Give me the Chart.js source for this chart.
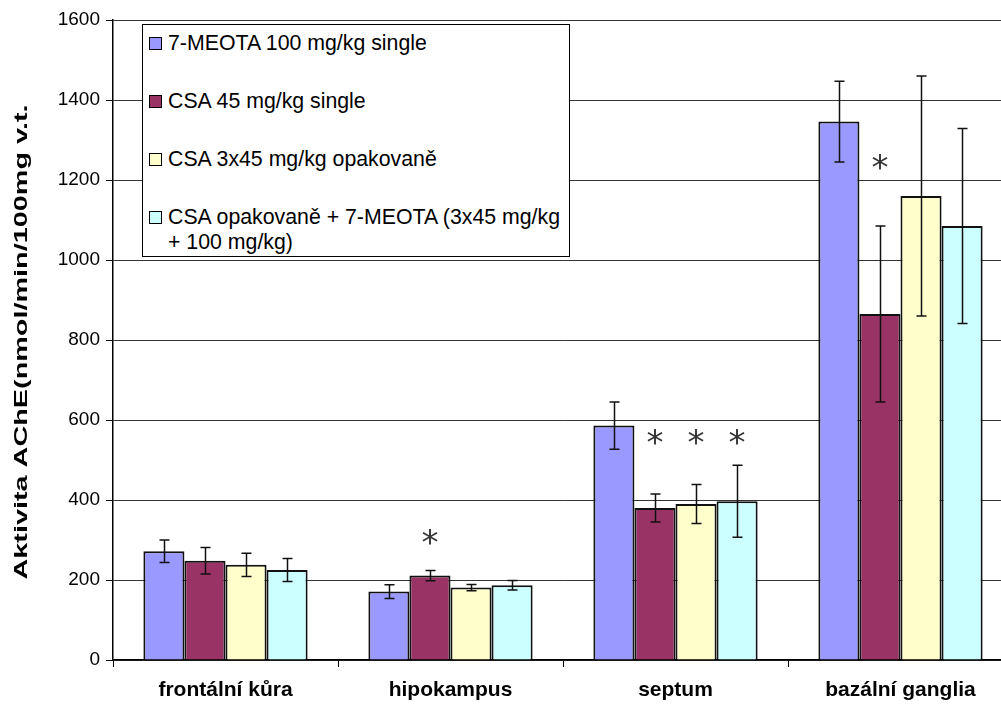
<!DOCTYPE html>
<html>
<head>
<meta charset="utf-8">
<script src="https://cdn.jsdelivr.net/npm/chart.js@4/dist/chart.umd.min.js"></script>
<style>
  html, body { margin: 0; padding: 0; background: #fff; overflow: hidden; width: 1001px; height: 705px; }
  #wrap { position: relative; width: 1015px; height: 705px; }
  #legend { position: absolute; left: 142px; top: 24px; width: 426px; height: 231px; border: 1.5px solid #000; background: #fff;
    font-family: "Liberation Sans", Arial, sans-serif; font-size: 21.3px; color: #000; box-sizing: content-box; }
  .item { position: absolute; left: 6px; display: flex; align-items: flex-start; line-height: 25px; }
  .sw { width: 11px; height: 11px; border: 1px solid #000; margin-top: 6px; margin-right: 6px; flex: none; }
  .txt { width: 400px; }
</style>
</head>
<body>
<div id="wrap">
  <canvas id="c" width="1015" height="705"></canvas>
  <div id="legend"></div>
</div>
<script>
// ---- data ----
const categories = ["frontální kůra", "hipokampus", "septum", "bazální ganglia"];
const seriesNames = [
  "7-MEOTA 100 mg/kg single",
  "CSA 45 mg/kg single",
  "CSA 3x45 mg/kg opakovaně",
  "CSA opakovaně + 7-MEOTA (3x45 mg/kg + 100 mg/kg)"
];
const meota100 = [272, 171, 586, 1346];
const csa45 = [248, 211, 380, 865];
const csa3x45 = [238, 181, 390, 1160];
const csaMeota = [225, 187, 397, 1085];
const meota100Err = [28, 17, 59, 101];
const csa45Err = [33, 13, 35, 220];
const csa3x45Err = [29, 8, 49, 300];
const csaMeotaErr = [29, 12, 90, 244];
const seriesColors = ["#9999FF", "#993366", "#FFFFCC", "#CCFFFF"];
// significance marks: category index, series index, value level
const sigCategory = [1, 2, 2, 2, 3];
const sigSeries = [1, 1, 2, 3, 1];
const sigLevel = [307, 557, 557, 557, 1245];
const yTicks = [0, 200, 400, 600, 800, 1000, 1200, 1400, 1600];
const yTitle = "Aktivita AChE(nmol/min/100mg v.t.";

const values = [meota100, csa45, csa3x45, csaMeota];
const errors = [meota100Err, csa45Err, csa3x45Err, csaMeotaErr];

// ---- legend (HTML) ----
const leg = document.getElementById('legend');
seriesNames.forEach((n, i) => {
  const d = document.createElement('div');
  d.className = 'item';
  d.style.top = (6 + i * 58) + 'px';
  const sw = document.createElement('div');
  sw.className = 'sw';
  sw.style.background = seriesColors[i];
  const t = document.createElement('div');
  t.className = 'txt';
  t.textContent = n;
  d.appendChild(sw); d.appendChild(t);
  leg.appendChild(d);
});

const errorBars = {
  id: 'errorBars',
  afterDatasetsDraw(chart) {
    const ctx = chart.ctx, y = chart.scales.y;
    ctx.save();
    ctx.strokeStyle = '#111';
    ctx.lineWidth = 1.5;
    chart.data.datasets.forEach((ds, i) => {
      const meta = chart.getDatasetMeta(i);
      meta.data.forEach((el, j) => {
        const v = ds.data[j], e = errors[i][j];
        const x = Math.round(el.x) + 0.5;
        const yt = y.getPixelForValue(v + e), yb = y.getPixelForValue(v - e);
        ctx.beginPath();
        ctx.moveTo(x, yt); ctx.lineTo(x, yb);
        ctx.moveTo(x - 5, yt); ctx.lineTo(x + 5, yt);
        ctx.moveTo(x - 5, yb); ctx.lineTo(x + 5, yb);
        ctx.stroke();
      });
    });
    // significance asterisks
    ctx.fillStyle = '#333';
    ctx.font = '34px "DejaVu Sans"';
    ctx.textAlign = 'center';
    ctx.textBaseline = 'alphabetic';
    sigCategory.forEach((c, k) => {
      const el = chart.getDatasetMeta(sigSeries[k]).data[c];
      const py = y.getPixelForValue(sigLevel[k]);
      const m = ctx.measureText('*');
      const off = (m.actualBoundingBoxAscent - m.actualBoundingBoxDescent) / 2;
      ctx.fillText('*', el.x, py + off);
    });
    ctx.restore();
  }
};

// y-axis title, drawn as rotated text stretched along its direction like the original
const yTitlePlugin = {
  id: 'yTitle',
  afterDraw(chart) {
    const ctx = chart.ctx;
    ctx.save();
    ctx.font = 'bold 18px "Liberation Sans", Arial';
    ctx.fillStyle = '#000';
    ctx.textAlign = 'center';
    ctx.textBaseline = 'middle';
    const w = ctx.measureText(yTitle).width;
    ctx.translate(22, 342);
    ctx.rotate(-Math.PI / 2);
    ctx.scale(475 / w, 1);
    ctx.fillText(yTitle, 0, 0);
    ctx.restore();
  }
};

new Chart(document.getElementById('c'), {
  type: 'bar',
  data: {
    labels: categories,
    datasets: values.map((v, i) => ({
      label: seriesNames[i],
      data: v,
      backgroundColor: seriesColors[i],
      borderColor: '#111',
      borderWidth: 2,
      barPercentage: 1.0,
      categoryPercentage: 0.73
    }))
  },
  options: {
    responsive: false,
    animation: false,
    devicePixelRatio: 1,
    layout: { padding: { top: 20, right: 2, left: 0, bottom: 0 } },
    plugins: { legend: { display: false }, tooltip: { enabled: false } },
    scales: {
      y: {
        min: 0, max: 1600,
        afterBuildTicks(s) { s.ticks = yTicks.map(v => ({ value: v })); },
        afterFit(s) { s.width = 113; },
        ticks: { font: { family: '"Liberation Sans", Arial', size: 19 }, color: '#000', padding: 6,
          callback: (v) => String(v) },
        grid: { color: '#333', lineWidth: 1, tickLength: 7, tickColor: '#000' },
        border: { color: '#000', width: 1.5 },
        title: { display: false }
      },
      x: {
        afterFit(s) { s.height = 45; },
        ticks: { font: { family: '"Liberation Sans", Arial', size: 21, weight: 'bold' }, color: '#000', padding: 11, maxRotation: 0 },
        grid: { drawOnChartArea: false, tickLength: 7, color: '#000', offset: true },
        border: { color: '#000', width: 1.5 }
      }
    }
  },
  plugins: [errorBars, yTitlePlugin]
});
</script>
</body>
</html>
